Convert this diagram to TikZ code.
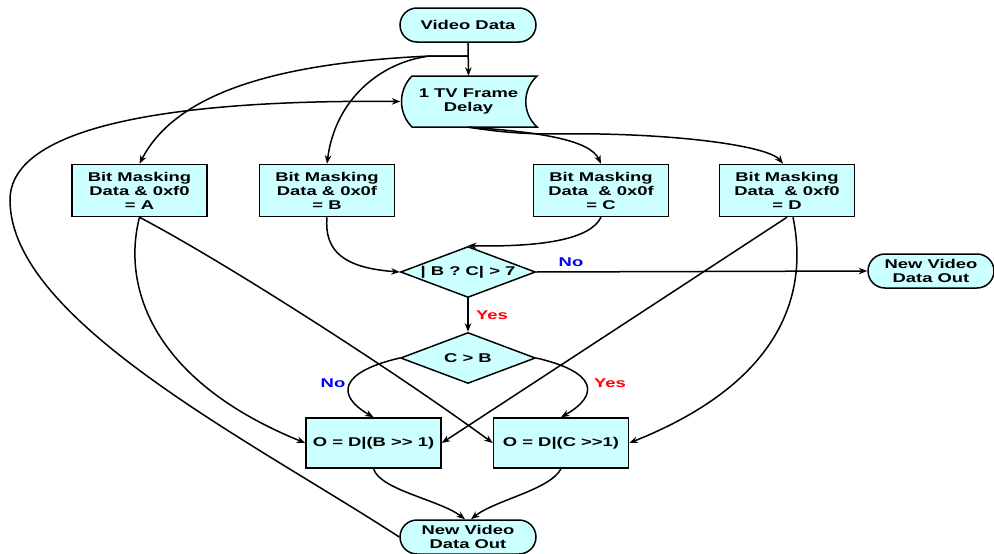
\documentclass[tikz,border=0pt]{standalone}
\usepackage{fontspec}
\setmainfont{Liberation Sans}[FakeStretch=1.45, Ligatures=TeXOff]
\usetikzlibrary{arrows.meta,shapes.geometric}
\definecolor{boxfill}{RGB}{204,255,255}
\definecolor{noblue}{RGB}{0,0,255}
\definecolor{yesred}{RGB}{255,0,0}
\tikzset{
  txt/.style={font=\fontsize{12.7}{14}\selectfont\bfseries, align=center},
  procbox/.style={txt, draw, fill=boxfill, line width=1.5pt, minimum width=135pt, minimum height=52pt, inner sep=0pt},
  term/.style={txt, draw, fill=boxfill, line width=1.5pt, minimum width=136pt, minimum height=34pt, rounded corners=17pt, inner sep=0pt},
  decision/.style={txt, draw, fill=boxfill, diamond, aspect=2.7, line width=1.5pt, minimum width=135pt, minimum height=51pt, inner sep=0pt},
  conn/.style={line width=1.5pt, -{Stealth[length=8.5pt,width=6.5pt]}},
  nolab/.style={txt, text=noblue},
  yeslab/.style={txt, text=yesred}
}
\begin{document}
\begin{tikzpicture}[x=1pt,y=-1pt]
\useasboundingbox (0,0) rectangle (994,554);
% nodes
\node[term] (vd) at (468,25) {Video Data};
\draw[line width=1.5pt, fill=boxfill] (412,76) -- (537,76) .. controls (522,90) and (522,113) .. (537,127) -- (412,127) .. controls (398,113) and (398,90) .. (412,76) -- cycle;
\node[txt, minimum width=136pt, minimum height=51pt, inner sep=0pt] (delay) at (468.5,101.5) {1 TV Frame\\Delay};
\node[procbox] (A) at (139.5,190.5) {Bit Masking\\Data \& 0xf0\\= A};
\node[procbox] (B) at (327,190.5) {Bit Masking\\Data \& 0x0f\\= B};
\node[procbox] (C) at (601,190.5) {Bit Masking\\Data~ \& 0x0f\\= C};
\node[procbox] (D) at (787,190.5) {Bit Masking\\Data~ \& 0xf0\\= D};
\node[decision] (d1) at (468,272) {| B ? C| > 7};
\node[decision] (d2) at (468,358) {C > B};
\node[term, minimum width=126pt] (out1) at (931,271) {New Video\\Data Out};
\node[procbox, minimum height=50pt] (O1) at (373.5,443) {O = D|(B >> 1)};
\node[procbox, minimum height=50pt] (O2) at (561,443) {O = D|(C >>1)};
\node[term] (out2) at (468,537) {New Video\\Data Out};
% labels
\node[nolab] (no1) at (571,262) {No};
\node[yeslab] (yes1) at (492,315) {Yes};
\node[nolab] (no2) at (333,383) {No};
\node[yeslab] (yes2) at (610,383) {Yes};
% connectors
\coordinate (split) at (468,56);
\coordinate (splitL) at (430,56);
\draw[conn] (vd.south) -- (delay.north);
\draw[conn] (split) -- (splitL) .. controls (300,62) and (180,85) .. (A.north);
\draw[conn] (split) -- (splitL) .. controls (380,62) and (335,100) .. (B.north);
\draw[conn] (out2.west) .. controls (250,440) and (10,320) .. (10,200) .. controls (10,110) and (250,100) .. (delay.west);
\draw[conn] (delay.south) .. controls (540,132) and (590,140) .. (C.north);
\draw[conn] (delay.south) .. controls (530,137) and (560,133) .. (600,134) .. controls (700,136) and (770,148) .. ([xshift=-4pt]D.north);
\draw[conn] (B.south) .. controls (324,252) and (345,268) .. (d1.west);
\draw[conn] (C.south) .. controls (590,240) and (540,247) .. (d1.north);
\draw[conn] (d1.east) -- (out1.west);
\draw[conn] (d1.south) -- (d2.north);
\draw[conn] (d2.west) .. controls (340,372) and (335,395) .. (O1.north);
\draw[conn] (d2.east) .. controls (597,372) and (600,395) .. (O2.north);
\draw[conn] (A.south) .. controls (122,285) and (150,380) .. (O1.west);
\draw[conn] (A.south) .. controls (230,265) and (400,375) .. (O2.west);
\draw[conn] (D.south) -- (O1.east);
\draw[conn] ([xshift=6pt]D.south) .. controls (810,300) and (775,385) .. (O2.east);
\draw[conn] (O1.south) .. controls (380,490) and (440,500) .. ([xshift=-3pt]out2.north);
\draw[conn] (O2.south) .. controls (550,490) and (495,500) .. ([xshift=3pt]out2.north);
\end{tikzpicture}
\end{document}
